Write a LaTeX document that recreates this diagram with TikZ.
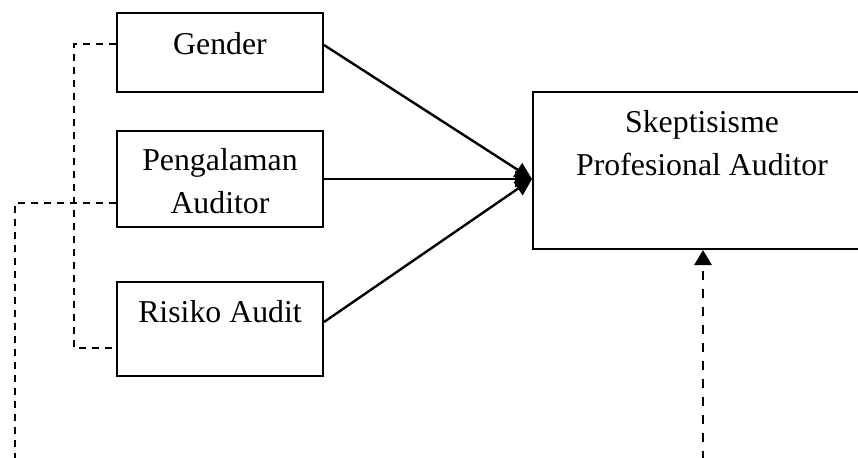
\documentclass[tikz,border=0pt]{standalone}
\usepackage{fontspec}
\setmainfont{Liberation Serif}
\usetikzlibrary{arrows.meta,calc}
\begin{document}
\begin{tikzpicture}[x=0.5pt,y=-0.5pt,
  box/.style={draw,line width=1pt,rectangle,inner sep=0pt},
  lbl/.style={anchor=base,inner sep=0pt,font=\fontsize{15.9}{21.5}\selectfont},
  solidarrow/.style={line width=1.2pt,-{Triangle[length=8.5pt,width=8pt]}},
  thindash/.style={line width=0.7pt,dash pattern=on 3.5pt off 3pt},
  thickdash/.style={line width=1.4pt,dash pattern=on 4.5pt off 4.5pt,-{Triangle[length=7.5pt,width=8.5pt]}}]
\useasboundingbox (0,0) rectangle (858,457);
% boxes
\node[box,minimum width=103pt,minimum height=39.5pt] (g) at (220,52.5) {};
\node[box,minimum width=103pt,minimum height=48pt] (p) at (220,179) {};
\node[box,minimum width=103pt,minimum height=47pt] (r) at (220,329) {};
\node[box,minimum width=169pt,minimum height=78.5pt] (s) at (702,170.5) {};
% texts
\node[lbl] (gt) at (220,54) {Gender};
\node[lbl] (pt1) at (220,170) {Pengalaman};
\node[lbl] (pt2) at (220,213) {Auditor};
\node[lbl] (rt) at (220,322.5) {Risiko Audit};
\node[lbl] (st1) at (702,132) {Skeptisisme};
\node[lbl] (st2) at (702,175) {Profesional Auditor};
% solid arrows
\coordinate (tip) at (s.west |- p.east);
\draw[solidarrow] ([yshift=3.75pt]g.east) -- (tip);
\draw[solidarrow] (p.east) -- (tip);
\draw[solidarrow] ([yshift=3.5pt]r.east) -- (tip);
% dashed connectors on the left
\draw[thindash] ([yshift=4.25pt]g.west) -- ++(-21pt,0) |- ([yshift=-9.5pt]r.west);
\coordinate (pb) at (15,460);
\draw[thindash] ([yshift=-12pt]p.west) -| (pb);
% dashed arrow from below
\coordinate (sb) at (703,460);
\draw[thickdash] (sb) -- (s.south -| sb);
\end{tikzpicture}
\end{document}
